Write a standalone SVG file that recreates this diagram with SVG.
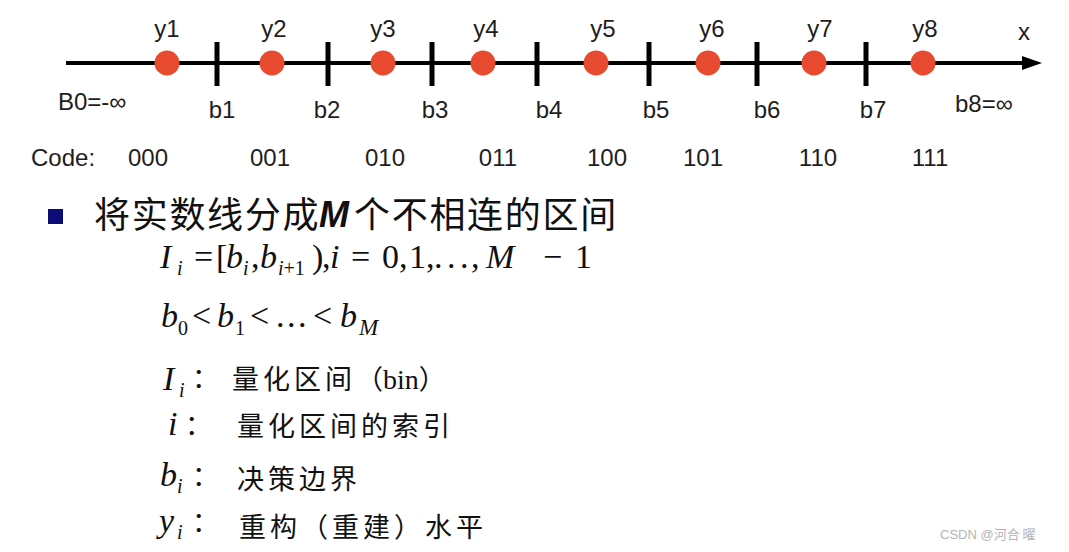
<svg xmlns="http://www.w3.org/2000/svg" width="1069" height="552" viewBox="0 0 1069 552">
<style>
.lab{font-family:"Liberation Sans",Arial,sans-serif;font-size:24px;fill:#1e1e1e}
.mid{text-anchor:middle}
.dot{fill:#e84a2f}
.tick{fill:#000}
.cjk{font-family:"Noto Sans CJK SC",sans-serif;fill:#111}
.m{font-family:"Liberation Serif","Times New Roman",serif;font-size:34px;fill:#111}
.it{font-style:italic}
.sub{font-size:20px}
</style>
<rect width="1069" height="552" fill="#fff"/>
<g id="connectors">
<line x1="66" y1="63" x2="1026" y2="63" stroke="#000" stroke-width="4"/>
<polygon points="1042,63 1022,56 1022,70" fill="#000"/>
</g>
<g id="ticks">
<rect class="tick" x="214.5" y="42" width="5" height="44"/>
<rect class="tick" x="325.5" y="42" width="5" height="44"/>
<rect class="tick" x="429.5" y="42" width="5" height="44"/>
<rect class="tick" x="534.5" y="42" width="5" height="44"/>
<rect class="tick" x="646.5" y="42" width="5" height="44"/>
<rect class="tick" x="754.5" y="42" width="5" height="44"/>
<rect class="tick" x="863.5" y="42" width="5" height="44"/>
</g>
<g id="y1"><circle class="dot" cx="167" cy="63" r="12.5"/><text class="lab mid" x="167" y="37">y1</text></g>
<g id="y2"><circle class="dot" cx="272" cy="63" r="12.5"/><text class="lab mid" x="274" y="37">y2</text></g>
<g id="y3"><circle class="dot" cx="383" cy="63" r="12.5"/><text class="lab mid" x="383" y="37">y3</text></g>
<g id="y4"><circle class="dot" cx="483" cy="63" r="12.5"/><text class="lab mid" x="486" y="37">y4</text></g>
<g id="y5"><circle class="dot" cx="596" cy="63" r="12.5"/><text class="lab mid" x="603" y="37">y5</text></g>
<g id="y6"><circle class="dot" cx="708" cy="63" r="12.5"/><text class="lab mid" x="712" y="37">y6</text></g>
<g id="y7"><circle class="dot" cx="814" cy="63" r="12.5"/><text class="lab mid" x="820" y="37">y7</text></g>
<g id="y8"><circle class="dot" cx="923" cy="63" r="12.5"/><text class="lab mid" x="925" y="37">y8</text></g>
<g id="axis-labels">
<text class="lab mid" x="1024" y="40">x</text>
<text class="lab" x="58" y="110">B0=-∞</text>
<text class="lab mid" x="222" y="118">b1</text>
<text class="lab mid" x="327" y="118">b2</text>
<text class="lab mid" x="435" y="118">b3</text>
<text class="lab mid" x="549" y="118">b4</text>
<text class="lab mid" x="656" y="118">b5</text>
<text class="lab mid" x="767" y="118">b6</text>
<text class="lab mid" x="873" y="118">b7</text>
<text class="lab" x="955" y="112">b8=∞</text>
</g>
<g id="codes">
<text class="lab" x="31" y="166">Code:</text>
<text class="lab mid" x="148" y="166">000</text>
<text class="lab mid" x="270" y="166">001</text>
<text class="lab mid" x="385" y="166">010</text>
<text class="lab mid" x="498" y="166">011</text>
<text class="lab mid" x="607" y="166">100</text>
<text class="lab mid" x="703" y="166">101</text>
<text class="lab mid" x="818" y="166">110</text>
<text class="lab mid" x="930" y="166">111</text>
</g>
<g id="heading">
<rect x="48" y="209" width="15" height="15" fill="#0c0c78"/>
<text class="cjk" x="94" y="228" font-size="36" letter-spacing="1.7">将实数线分成</text>
<text x="319" y="227" font-family="Liberation Sans,Arial,sans-serif" font-size="36" font-style="italic" font-weight="bold" fill="#111">M</text>
<text class="cjk" x="354" y="228" font-size="36" letter-spacing="1.7">个不相连的区间</text>
</g>
<g id="formula1" class="m">
<text x="160" y="268"><tspan class="it">I</tspan><tspan class="it sub" x="177" dy="7">i</tspan><tspan x="194" dy="-7">=</tspan><tspan x="216">[</tspan><tspan class="it" x="226">b</tspan><tspan class="it sub" x="243" dy="7">i</tspan><tspan x="251" dy="-7">,</tspan><tspan class="it" x="260">b</tspan><tspan class="it sub" x="278" dy="7">i</tspan><tspan class="sub">+1</tspan><tspan x="312" dy="-7">)</tspan><tspan x="322">,</tspan><tspan class="it" x="330">i</tspan><tspan x="351">=</tspan><tspan x="382">0</tspan><tspan x="399">,</tspan><tspan x="409">1</tspan><tspan x="426">,</tspan><tspan x="434">.</tspan><tspan x="447">.</tspan><tspan x="460">.</tspan><tspan x="471">,</tspan><tspan class="it" x="486">M</tspan><tspan x="543">−</tspan><tspan x="575">1</tspan></text>
</g>
<g id="formula2" class="m">
<text x="161" y="327"><tspan class="it">b</tspan><tspan class="sub" x="178" dy="8">0</tspan><tspan x="192" dy="-8">&lt;</tspan><tspan class="it" x="217">b</tspan><tspan class="sub" x="235" dy="8">1</tspan><tspan x="250" dy="-8">&lt;</tspan><tspan x="276">.</tspan><tspan x="287">.</tspan><tspan x="298">.</tspan><tspan x="313">&lt;</tspan><tspan class="it" x="340">b</tspan><tspan class="it" x="359" dy="8" font-size="23">M</tspan></text>
</g>
<g id="def-I">
<text class="m" x="163" y="390"><tspan class="it">I</tspan><tspan class="it sub" x="179" dy="7">i</tspan></text>
<text class="cjk" x="192" y="388" font-size="27">：</text>
<text class="cjk" x="232" y="389" font-size="27"><tspan letter-spacing="4">量化区间</tspan><tspan>（</tspan><tspan font-family="Liberation Serif,serif" font-size="28">bin</tspan><tspan>）</tspan></text>
</g>
<g id="def-i">
<text class="m it" x="168" y="435">i</text>
<text class="cjk" x="185" y="435" font-size="27">：</text>
<text class="cjk" x="237" y="436" font-size="27" letter-spacing="4">量化区间的索引</text>
</g>
<g id="def-b">
<text class="m" x="160" y="486"><tspan class="it">b</tspan><tspan class="it sub" x="177" dy="7">i</tspan></text>
<text class="cjk" x="192" y="486" font-size="27">：</text>
<text class="cjk" x="237" y="489" font-size="27" letter-spacing="4">决策边界</text>
</g>
<g id="def-y">
<text class="m" x="159" y="532"><tspan class="it">y</tspan><tspan class="it sub" x="177" dy="7">i</tspan></text>
<text class="cjk" x="192" y="532" font-size="27">：</text>
<text class="cjk" x="239" y="537" font-size="27" letter-spacing="4">重构（重建）水平</text>
</g>
<text x="940" y="539" font-family="Liberation Sans,sans-serif" font-size="13" fill="#b5b5b5">CSDN @<tspan font-family="Noto Sans CJK SC,sans-serif">河合 曜</tspan></text>
</svg>
